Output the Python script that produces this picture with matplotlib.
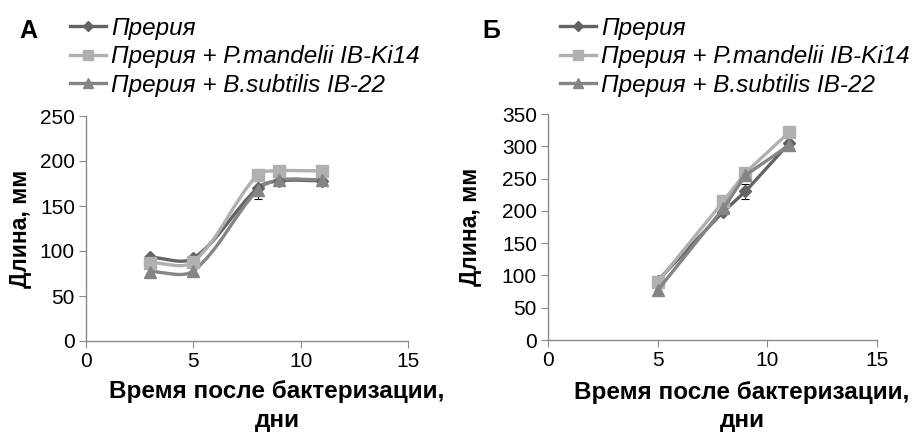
import numpy as np
import matplotlib
matplotlib.use("Agg")
import matplotlib.pyplot as plt
from matplotlib.path import Path
from matplotlib.patches import PathPatch
from matplotlib.lines import Line2D

plt.rcParams['font.family'] = ['Liberation Sans', 'DejaVu Sans']

# Panel A
days_a = [3, 5, 8, 9, 11]
prairie_a = [93, 92, 170, 178, 178]
prairie_a_err = [2, 2, 12, 2, 2]
mandelii_a = [87, 88, 185, 189, 189]
subtilis_a = [77, 78, 168, 179, 179]

# Panel B
days_b = [5, 8, 9, 11]
prairie_b = [92, 199, 230, 305]
prairie_b_err = [2, 4, 12, 3]
mandelii_b = [90, 215, 259, 322]
subtilis_b = [77, 204, 255, 302]

labels = ['Прерия', 'Прерия + P.mandelii IB-Ki14', 'Прерия + B.subtilis IB-22']
colors = ['#636363', '#b0b0b0', '#858585']
markers = ['D', 's', '^']
msizes = [6, 9, 9]

W, H = 917, 433


def smooth_path(ax, x, y):
    """Smoothed cubic Bezier through the points, built in display space."""
    pts = ax.transData.transform(np.column_stack([x, y]).astype(float))
    n = len(pts)
    ext = np.vstack([pts[0], pts, pts[-1]])
    verts = [pts[0]]
    codes = [Path.MOVETO]
    for i in range(n - 1):
        p0, p1, p2, p3 = ext[i], ext[i + 1], ext[i + 2], ext[i + 3]
        d01 = np.hypot(*(p1 - p0))
        d12 = np.hypot(*(p2 - p1))
        d23 = np.hypot(*(p3 - p2))
        f1 = d12 / (d01 + d12) / 3.0 if d01 + d12 > 0 else 0
        f2 = d12 / (d12 + d23) / 3.0 if d12 + d23 > 0 else 0
        c1 = p1 + (p2 - p0) * f1
        c2 = p2 - (p3 - p1) * f2
        verts += [c1, c2, p2]
        codes += [Path.CURVE4] * 3
    data = ax.transData.inverted().transform(np.array(verts))
    return Path(data, codes)


def style_axes(ax, ymax, ystep, ylab_x, xlab_x, xlab_y):
    ax.set_xlim(0, 15)
    ax.set_ylim(0, ymax)
    ax.set_xticks([0, 5, 10, 15])
    ax.set_yticks(np.arange(0, ymax + 1, ystep))
    for s in ['top', 'right']:
        ax.spines[s].set_visible(False)
    for s in ['left', 'bottom']:
        ax.spines[s].set_color('#8a8a8a')
        ax.spines[s].set_linewidth(1.0)
    ax.tick_params(axis='both', direction='out', length=5, color='#8a8a8a',
                   labelsize=15, pad=3)
    ax.set_ylabel('Длина, мм', fontsize=16.5, fontweight='bold')
    ax.yaxis.set_label_coords(ylab_x, 0.5)
    ax.set_xlabel('Время после бактеризации,\nдни', fontsize=17.5,
                  fontweight='bold', linespacing=1.3)
    ax.xaxis.set_label_coords(xlab_x, xlab_y)


fig = plt.figure(figsize=(9.17, 4.33), dpi=100)
ax_a = fig.add_axes([86 / W, 1 - 341 / H, (408 - 86) / W, (341 - 116) / H])
ax_b = fig.add_axes([548 / W, 1 - 340 / H, (877 - 548) / W, (340 - 114) / H])
style_axes(ax_a, 250, 50, -0.168, 0.593, -0.175)
style_axes(ax_b, 350, 50, -0.20, 0.59, -0.18)

# Panel A: smoothed lines
series_a = [prairie_a, mandelii_a, subtilis_a]
for yv, c in zip(series_a, colors):
    ax_a.add_patch(PathPatch(smooth_path(ax_a, days_a, yv), facecolor='none',
                             edgecolor=c, lw=2.4, zorder=2))
ax_a.errorbar(days_a, prairie_a, yerr=prairie_a_err, fmt='none', ecolor='black',
              elinewidth=0.8, capsize=3, capthick=0.8, zorder=2.5)
for yv, c, m, ms in zip(series_a, colors, markers, msizes):
    ax_a.plot(days_a, yv, linestyle='none', marker=m, color=c, ms=ms, zorder=3)

# Panel B: straight lines
series_b = [prairie_b, mandelii_b, subtilis_b]
ax_b.errorbar(days_b, prairie_b, yerr=prairie_b_err, fmt='none', ecolor='black',
              elinewidth=0.8, capsize=3, capthick=0.8, zorder=1.5)
for yv, c, m, ms in zip(series_b, colors, markers, msizes):
    ax_b.plot(days_b, yv, color=c, lw=2.4, marker=m, ms=ms, zorder=2)

handles = [Line2D([], [], color=c, lw=2.4, marker=m, ms=ms * 0.8)
           for c, m, ms in zip(colors, markers, msizes)]

for letter, lx, legx in [('А', 19 / W, 70 / W), ('Б', 482 / W, 560 / W)]:
    fig.text(lx, 1 - 31 / H, letter, fontsize=18, fontweight='bold', va='center')
    fig.legend(handles, labels, loc='upper left', bbox_to_anchor=(legx, 1 - 17 / H),
               frameon=False, prop={'size': 17.5, 'style': 'italic'},
               handlelength=1.5, handletextpad=0.2, labelspacing=0.22,
               borderaxespad=0, borderpad=0)

fig.savefig('out.png', dpi=100)
